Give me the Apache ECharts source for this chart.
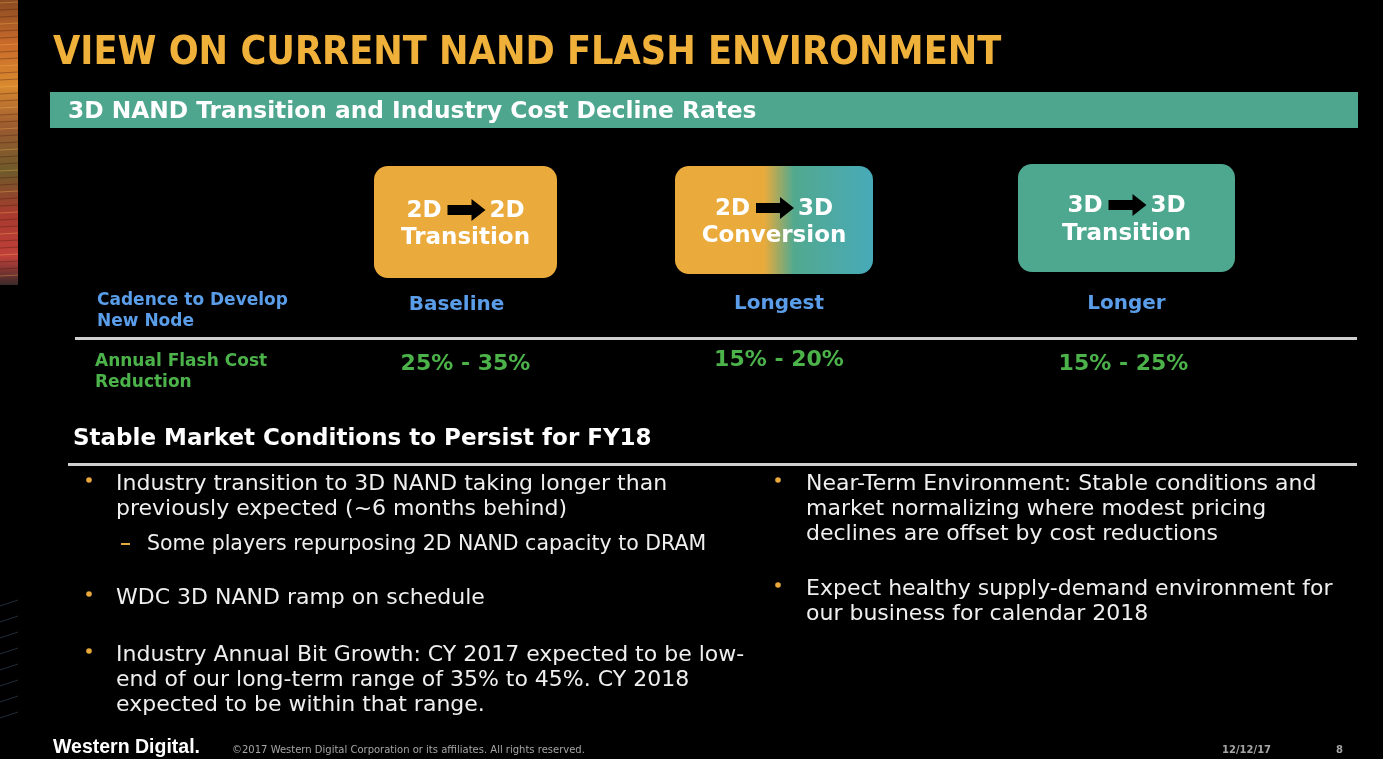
<!DOCTYPE html>
<html><head><meta charset="utf-8">
<script src="https://cdn.jsdelivr.net/npm/echarts@6/dist/echarts.min.js"></script>
<style>html,body{margin:0;padding:0;background:#000;}#c{width:1383px;height:759px;}</style>
</head><body><div id="c"></div>
<script>
// ---- content ----
const slideTitle = 'VIEW ON CURRENT NAND FLASH ENVIRONMENT';
const bannerText = '3D NAND Transition and Industry Cost Decline Rates';
const fromNode = ['2D', '2D', '3D'];
const toNode = ['2D', '3D', '3D'];
const stepName = ['Transition', 'Conversion', 'Transition'];
const rowLabels = ['Cadence to Develop\nNew Node', 'Annual Flash Cost\nReduction'];
const cadence = ['Baseline', 'Longest', 'Longer'];
const costReduction = ['25% - 35%', '15% - 20%', '15% - 25%'];
const sectionTitle = 'Stable Market Conditions to Persist for FY18';
const leftBullets = [
  {lines: ['Industry transition to 3D NAND taking longer than', 'previously expected (~6 months behind)'],
   sub: ['Some players repurposing 2D NAND capacity to DRAM']},
  {lines: ['WDC 3D NAND ramp on schedule'], sub: []},
  {lines: ['Industry Annual Bit Growth: CY 2017 expected to be low-', 'end of our long-term range of 35% to 45%. CY 2018', 'expected to be within that range.'], sub: []}
];
const rightBullets = [
  {lines: ['Near-Term Environment: Stable conditions and', 'market normalizing where modest pricing', 'declines are offset by cost reductions'], sub: []},
  {lines: ['Expect healthy supply-demand environment for', 'our business for calendar 2018'], sub: []}
];
const footerBrand = 'Western Digital.';
const footerCopy = '©2017 Western Digital Corporation or its affiliates. All rights reserved.';
const footerDate = '12/12/17';
const footerPage = '8';

// ---- layout / style ----
const FC = '"DejaVu Sans Condensed","DejaVu Sans",sans-serif';
const F = '"DejaVu Sans",sans-serif';
const ORANGE = '#EBAA3C', TEAL = '#4EA88F', BLUE = '#5A9DE8', GREEN = '#4CB24A';
const boxes = [
  {x: 374, y: 166, w: 183, h: 112, l1: 211, l2: 238},
  {x: 675, y: 166, w: 198, h: 108, l1: 209, l2: 236},
  {x: 1018, y: 164, w: 217, h: 108, l1: 206, l2: 234}
];
const fills = [
  ORANGE,
  {type: 'linear', x: 0, y: 0, x2: 1, y2: 0, colorStops: [
    {offset: 0, color: ORANGE}, {offset: 0.45, color: '#E9AA3C'},
    {offset: 0.60, color: '#52A98F'}, {offset: 1, color: '#47AAB8'}]},
  TEAL
];
const cadenceY = [305, 304, 304];
const costY = [364, 360, 364];

const g = [];
// left decorative strip
g.push({type: 'rect', shape: {x: 0, y: 0, width: 18, height: 285},
  style: {fill: {type: 'linear', x: 0, y: 0, x2: 0, y2: 1, colorStops: [
    {offset: 0, color: '#8a4a22'}, {offset: 0.15, color: '#c86a2a'}, {offset: 0.3, color: '#d9892f'},
    {offset: 0.45, color: '#9a5a30'}, {offset: 0.6, color: '#6e5a2a'}, {offset: 0.75, color: '#a83a2e'},
    {offset: 0.9, color: '#c0403a'}, {offset: 1, color: '#3a2a2a'}]}}});
for (let i = 0; i < 40; i++) {
  const yy = 3 + i * 7;
  g.push({type: 'line', shape: {x1: 0, y1: yy, x2: 18, y2: yy - 1},
    style: {stroke: i % 3 === 0 ? 'rgba(255,190,90,0.35)' : 'rgba(60,20,10,0.35)', lineWidth: 1}});
}
for (let i = 0; i < 8; i++) {
  const yy = 600 + i * 16;
  g.push({type: 'line', shape: {x1: 0, y1: yy + 6, x2: 18, y2: yy},
    style: {stroke: 'rgba(90,130,170,0.35)', lineWidth: 1}});
}
// title
g.push({type: 'text', left: 53, top: 34, style: {text: slideTitle, fill: '#F0B13A',
  font: 'bold 39.2px ' + FC}});
// banner
g.push({type: 'rect', shape: {x: 50, y: 92, width: 1308, height: 36}, style: {fill: '#4DA68D'}});
g.push({type: 'text', x: 68, y: 112, style: {text: bannerText, fill: '#fff', font: 'bold 23.3px ' + F,
  textVerticalAlign: 'middle'}});
// transition boxes
boxes.forEach((b, i) => {
  const cx = b.x + b.w / 2;
  g.push({type: 'rect', shape: {x: b.x, y: b.y, width: b.w, height: b.h, r: 14}, style: {fill: fills[i]}});
  g.push({type: 'text', x: cx - 24, y: b.l1, style: {text: fromNode[i], fill: '#fff', font: 'bold 23px ' + F,
    textAlign: 'right', textVerticalAlign: 'middle'}});
  g.push({type: 'text', x: cx + 24, y: b.l1, style: {text: toNode[i], fill: '#fff', font: 'bold 23px ' + F,
    textAlign: 'left', textVerticalAlign: 'middle'}});
  const ax = cx - 18, ay = b.l1 - 1;
  g.push({type: 'polygon', shape: {points: [[ax, ay - 5], [ax + 24, ay - 5], [ax + 24, ay - 11], [ax + 38, ay],
    [ax + 24, ay + 11], [ax + 24, ay + 5], [ax, ay + 5]]}, style: {fill: '#000'}});
  g.push({type: 'text', x: cx, y: b.l2, style: {text: stepName[i], fill: '#fff', font: 'bold 23px ' + F,
    textAlign: 'center', textVerticalAlign: 'middle'}});
  g.push({type: 'text', x: cx - (i === 0 ? 9 : 0) + (i === 1 ? 5 : 0), y: cadenceY[i], style: {text: cadence[i], fill: BLUE,
    font: 'bold 20px ' + F, textAlign: 'center', textVerticalAlign: 'middle'}});
  g.push({type: 'text', x: cx + [0, 5, -3][i], y: costY[i], style: {text: costReduction[i], fill: GREEN,
    font: 'bold 22px ' + F, textAlign: 'center', textVerticalAlign: 'middle'}});
});
// row labels
g.push({type: 'text', top: 290, left: 97, style: {text: rowLabels[0], fill: BLUE, font: 'bold 17px ' + F,
  lineHeight: 21}});
g.push({type: 'text', left: 95, top: 351, style: {text: rowLabels[1], fill: GREEN, font: 'bold 17px ' + F,
  lineHeight: 21}});
g.push({type: 'rect', shape: {x: 75, y: 337, width: 1282, height: 3}, style: {fill: '#CFCFCF'}});
// section
g.push({type: 'text', x: 73, y: 439, style: {text: sectionTitle, fill: '#fff', font: 'bold 23px ' + F,
  textVerticalAlign: 'middle'}});
g.push({type: 'rect', shape: {x: 68, y: 463, width: 1289, height: 3}, style: {fill: '#CFCFCF'}});
// bullets
function drawBullets(list, bx, tx, startYs) {
  list.forEach((b, k) => {
    let y = startYs[k];
    g.push({type: 'circle', shape: {cx: bx, cy: y - 3, r: 2.8}, style: {fill: '#E8A93A'}});
    b.lines.forEach((ln, j) => {
      g.push({type: 'text', x: tx, y: y + 1 + j * 25, style: {text: ln, fill: '#EFEFEF', font: '22px ' + F,
        textVerticalAlign: 'middle'}});
    });
    b.sub.forEach((s, j) => {
      const sy = y + b.lines.length * 25 + 11 + j * 25;
      g.push({type: 'rect', shape: {x: 121, y: sy - 1, width: 9, height: 2}, style: {fill: '#E8A93A'}});
      g.push({type: 'text', x: 147, y: sy + 1, style: {text: s, fill: '#EFEFEF', font: '20.5px ' + F,
        textVerticalAlign: 'middle'}});
    });
  });
}
drawBullets(leftBullets, 89, 116, [483, 597, 654]);
drawBullets(rightBullets, 778, 806, [483, 588]);
// footer
g.push({type: 'text', x: 53, y: 748, style: {text: footerBrand, fill: '#fff',
  font: 'bold 19.5px "Liberation Sans Narrow","Liberation Sans",sans-serif', textVerticalAlign: 'middle'}});
g.push({type: 'text', x: 232, y: 750, style: {text: footerCopy, fill: '#a5a5a5', font: '10px ' + F,
  textVerticalAlign: 'middle'}});
g.push({type: 'text', x: 1222, y: 750, style: {text: footerDate, fill: '#a5a5a5', font: 'bold 10px ' + F,
  textVerticalAlign: 'middle'}});
g.push({type: 'text', x: 1336, y: 750, style: {text: footerPage, fill: '#a5a5a5', font: 'bold 10px ' + F,
  textVerticalAlign: 'middle'}});

const chart = echarts.init(document.getElementById('c'), null, {renderer: 'canvas'});
chart.setOption({backgroundColor: '#000', animation: false, graphic: {elements: g}});
</script></body></html>
